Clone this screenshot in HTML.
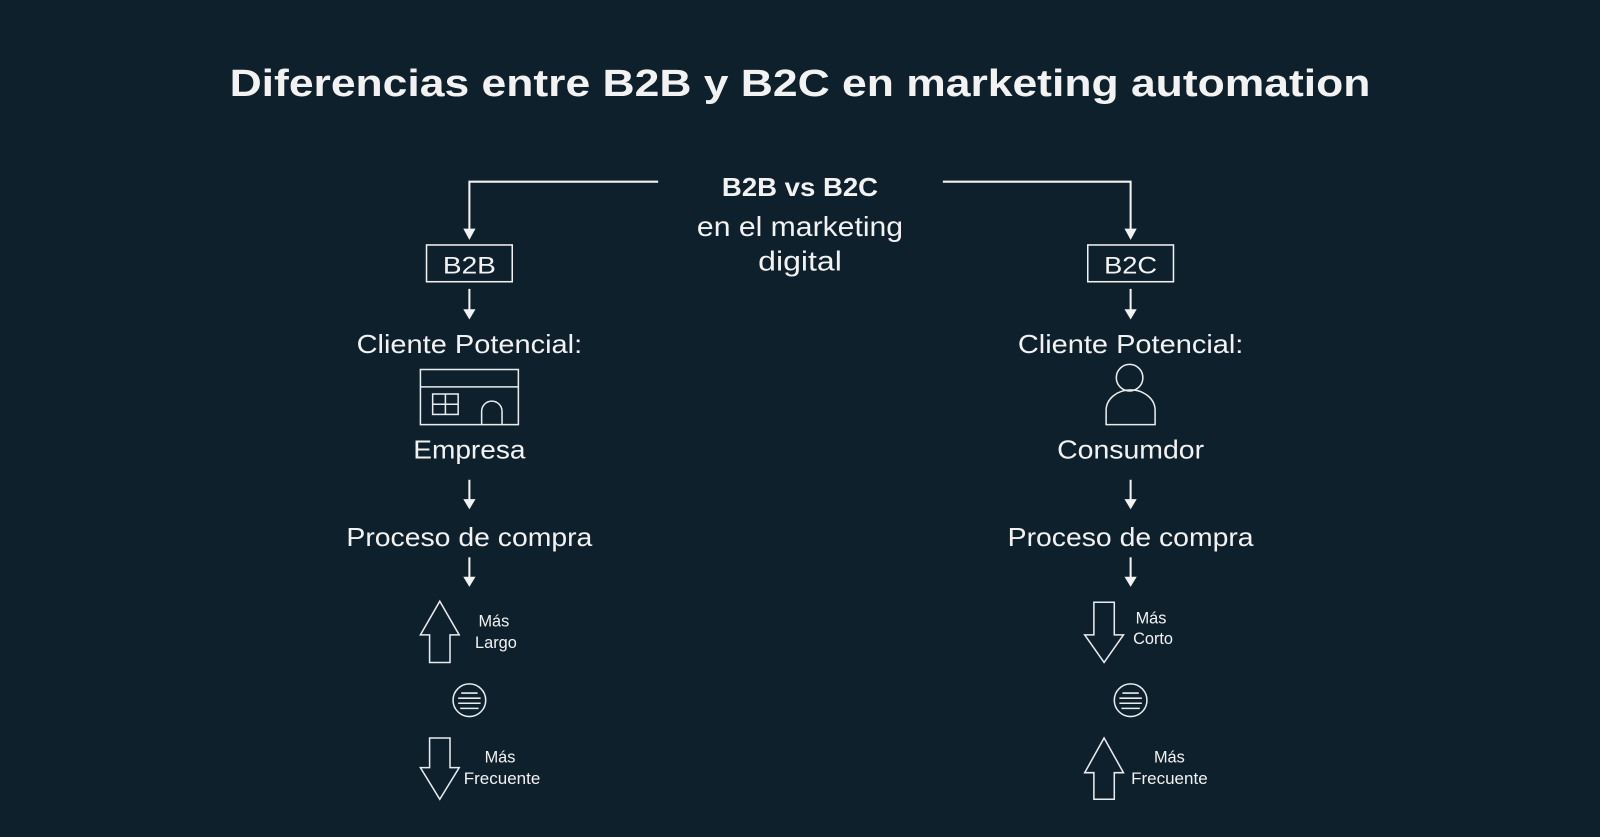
<!DOCTYPE html>
<html><head><meta charset="utf-8"><style>
html,body{margin:0;padding:0;background:#0e202c;}
svg{display:block}
text{fill:#f2f2f2;font-family:"Liberation Sans",sans-serif;text-anchor:middle}
</style></head><body>
<svg width="1600" height="837" viewBox="0 0 1568 820" preserveAspectRatio="none">
<rect width="1568" height="820" fill="#0e202c"/>
<text x="784" y="94" font-size="37" font-weight="bold" textLength="1118" lengthAdjust="spacingAndGlyphs">Diferencias entre B2B y B2C en marketing automation</text>
<g stroke="#f2f2f2" stroke-width="2" fill="none">
<polyline points="645,178 460,178 460,226"/>
<polyline points="924,178 1108,178 1108,226"/>
<rect x="418" y="240" width="84" height="36" stroke-width="1.5"/>
<rect x="1066" y="240" width="84" height="36" stroke-width="1.5"/>
<line x1="460" y1="283" x2="460" y2="306"/><line x1="1108" y1="283" x2="1108" y2="306"/>
<line x1="460" y1="470" x2="460" y2="492"/><line x1="1108" y1="470" x2="1108" y2="492"/>
<line x1="460" y1="546" x2="460" y2="568"/><line x1="1108" y1="546" x2="1108" y2="568"/>
</g>
<g fill="#f2f2f2">
<polygon points="454,224 466,224 460,235"/><polygon points="1102,224 1114,224 1108,235"/>
<polygon points="454,303 466,303 460,313"/><polygon points="1102,303 1114,303 1108,313"/>
<polygon points="454,489 466,489 460,499"/><polygon points="1102,489 1114,489 1108,499"/>
<polygon points="454,565 466,565 460,575"/><polygon points="1102,565 1114,565 1108,575"/>
</g>
<text x="784" y="192" font-size="25" font-weight="bold" textLength="153" lengthAdjust="spacingAndGlyphs">B2B vs B2C</text>
<text x="784" y="231" font-size="27" textLength="202" lengthAdjust="spacingAndGlyphs">en el marketing</text>
<text x="784" y="265" font-size="27" textLength="82" lengthAdjust="spacingAndGlyphs">digital</text>
<text x="460" y="268" font-size="24" textLength="52" lengthAdjust="spacingAndGlyphs">B2B</text>
<text x="1108" y="268" font-size="24" textLength="52" lengthAdjust="spacingAndGlyphs">B2C</text>
<text x="460" y="346" font-size="25" textLength="221" lengthAdjust="spacingAndGlyphs">Cliente Potencial:</text>
<text x="1108" y="346" font-size="25" textLength="221" lengthAdjust="spacingAndGlyphs">Cliente Potencial:</text>
<text x="460" y="449" font-size="25" textLength="110" lengthAdjust="spacingAndGlyphs">Empresa</text>
<text x="1108" y="449" font-size="25" textLength="144" lengthAdjust="spacingAndGlyphs">Consumdor</text>
<text x="460" y="535" font-size="25" textLength="241" lengthAdjust="spacingAndGlyphs">Proceso de compra</text>
<text x="1108" y="535" font-size="25" textLength="241" lengthAdjust="spacingAndGlyphs">Proceso de compra</text>
<g stroke="#e8ecee" stroke-width="1.5" fill="none">
<rect x="412" y="362" width="96" height="54"/>
<line x1="412" y1="379" x2="508" y2="379"/>
<rect x="424" y="386" width="25" height="20"/>
<line x1="436.5" y1="386" x2="436.5" y2="406"/><line x1="424" y1="396" x2="449" y2="396"/>
<path d="M472,416 V403 A10,10 0 0 1 492,403 V416"/>
<circle cx="1107" cy="370" r="13"/>
<path d="M1084,416 V402 A24,20 0 0 1 1132,402 V416 Z"/>
<polygon points="431,589 450,622 441,622 441,649 421,649 421,622 412,622"/>
<polygon points="431,783 450,752 441,752 441,723 421,723 421,752 412,752"/>
<polygon points="1082,649 1101,622 1092,622 1092,590 1072,590 1072,622 1063,622"/>
<polygon points="1082,723 1101,757 1092,757 1092,783 1072,783 1072,757 1063,757"/>
<circle cx="460" cy="686" r="16"/><circle cx="1108" cy="686" r="16"/>
<line x1="452" y1="679" x2="468" y2="679"/><line x1="449" y1="684" x2="471" y2="684"/><line x1="449" y1="689" x2="471" y2="689"/><line x1="451" y1="694" x2="469" y2="694"/>
<line x1="1100" y1="679" x2="1116" y2="679"/><line x1="1097" y1="684" x2="1119" y2="684"/><line x1="1097" y1="689" x2="1119" y2="689"/><line x1="1099" y1="694" x2="1117" y2="694"/>
</g>
<g font-size="16">
<text x="484" y="614">Más</text><text x="486" y="635">Largo</text>
<text x="490" y="747">Más</text><text x="492" y="768" textLength="75" lengthAdjust="spacingAndGlyphs">Frecuente</text>
<text x="1128" y="611">Más</text><text x="1130" y="631">Corto</text>
<text x="1146" y="747">Más</text><text x="1146" y="768" textLength="75" lengthAdjust="spacingAndGlyphs">Frecuente</text>
</g>
</svg>
</body></html>
